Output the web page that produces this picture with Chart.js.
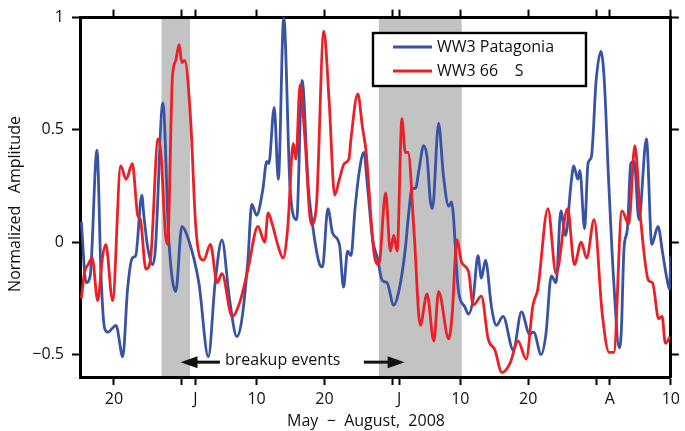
<!DOCTYPE html>
<html>
<head>
<meta charset="utf-8">
<script src="https://cdn.jsdelivr.net/npm/chart.js@4.4.1/dist/chart.umd.min.js"></script>
<style>
  html, body { margin: 0; padding: 0; background: #fff; }
  #wrap { width: 685px; height: 431px; }
</style>
</head>
<body>
<div id="wrap"><canvas id="chart" width="685" height="431"></canvas></div>
<script>
// x in days counted from 1 May 2008 (May 1 = 1, June 1 = 32, July 1 = 62, Aug 1 = 93)
const xMin = 15;
const xMax = 102;
const tickDays = [20, 30, 32, 41, 51, 61, 62, 71, 81, 91, 93, 102];
const tickLabels = { 20: "20", 32: "J", 41: "10", 51: "20", 62: "J", 71: "10", 81: "20", 93: "A", 102: "10" };
const ampTicks = [-0.5, 0, 0.5, 1];
const ampLabels = { "-0.5": "\u22120.5", "0": "0", "0.5": "0.5", "1": "1" };

// breakup periods (grey bands)
const breakupStart = [27.0, 59.0];
const breakupEnd = [31.2, 71.2];

// WW3 Patagonia
const patagoniaDays = [15.2, 15.9, 16.5, 17.5, 18.1, 18.6, 19.1, 20.3, 21.3, 22.0, 22.7, 23.2, 24.1, 24.4, 24.9, 25.7, 26.1, 27.2, 28.1, 29.1,
  30.0, 31.0, 32.5, 33.9, 34.9, 35.9, 37.0, 38.1, 38.8, 39.7, 40.3, 41.0, 41.9, 42.5, 42.8, 43.6, 44.2, 45.0, 45.9, 46.4,
  46.9, 47.7, 48.6, 49.05, 50.3, 50.7, 51.5, 52.2, 53.2, 53.8, 54.4, 54.9, 55.5, 56.1, 56.8, 57.3, 58.1, 58.8, 59.5, 60.2,
  61.2, 62.0, 62.9, 63.4, 63.9, 64.4, 64.9, 65.6, 66.1, 66.6, 66.9, 67.8, 68.5, 69.3, 69.7, 70.7, 71.7, 72.2, 72.9, 73.6,
  74.1, 74.7, 75.6, 76.3, 77.3, 78.8, 80.0, 81.2, 81.8, 82.9, 83.6, 84.4, 85.1, 85.8, 86.5, 87.3, 87.7, 88.3, 88.6, 89.3,
  89.8, 90.3, 91.0, 91.7, 92.2, 92.8, 93.6, 94.4, 94.7, 95.1, 95.6, 96.1, 96.6, 97.3, 98.4, 99.2, 100.1, 100.8, 101.4, 101.8, 102.0];
const patagoniaAmp = [0.09, -0.18, -0.15, 0.41, -0.15, -0.38, -0.40, -0.37, -0.51, -0.21, -0.07, -0.06, 0.21, 0.12, -0.01, -0.10, -0.03, 0.62, 0.0, -0.22,
  0.07, 0.01, -0.18, -0.51, -0.18, 0.01, -0.25, -0.42, -0.35, -0.09, 0.17, 0.12, 0.23, 0.36, 0.35, 0.60, 0.28, 1.0, 0.26, 0.12,
  0.10, 0.72, 0.25, 0.12, -0.10, -0.11, 0.15, 0.04, -0.01, -0.20, -0.04, -0.06, 0.15, 0.31, 0.40, 0.26, 0.01, -0.07, -0.17, -0.18,
  -0.28, -0.21, -0.03, 0.13, 0.24, 0.24, 0.32, 0.43, 0.38, 0.18, 0.15, 0.53, 0.30, 0.16, 0.18, -0.21, -0.29, -0.32, -0.25, -0.06,
  -0.16, -0.08, -0.29, -0.37, -0.33, -0.48, -0.31, -0.41, -0.40, -0.50, -0.41, -0.15, -0.18, 0.14, 0.03, 0.26, 0.34, 0.28, 0.32, 0.06,
  0.35, 0.38, 0.72, 0.85, 0.72, 0.30, -0.18, -0.47, -0.40, -0.03, 0.06, 0.35, 0.36, 0.10, 0.46, -0.01, 0.07, -0.05, -0.16, -0.21, -0.06];

// WW3 66 S
const south66Days = [15.2, 15.7, 16.2, 16.8, 17.6, 18.3, 18.8, 19.8, 21.0, 21.8, 22.7, 23.5, 23.9, 24.7, 25.4, 26.5, 26.9, 27.6, 27.9, 28.6,
  29.1, 29.6, 30.0, 30.4, 31.3, 32.0, 32.7, 33.2, 34.2, 35.2, 35.9, 37.4, 38.6, 39.8, 41.2, 42.2, 42.7, 43.4, 44.2, 44.9,
  45.6, 46.4, 46.8, 47.4, 48.1, 49.05, 49.8, 50.9, 51.7, 52.5, 53.2, 53.9, 54.6, 54.9, 55.9, 56.6, 57.1, 58.3, 59.0, 60.0,
  60.7, 61.2, 61.7, 62.4, 62.9, 63.3, 64.2, 65.1, 66.1, 67.1, 67.8, 69.3, 69.8, 70.5, 71.2, 72.2, 72.9, 74.1, 75.1, 76.1,
  77.1, 78.3, 79.5, 80.7, 81.7, 82.4, 83.9, 85.1, 86.8, 87.8, 88.8, 89.6, 90.7, 91.9, 92.9, 93.6, 94.8, 95.8, 96.7, 97.5,
  98.7, 99.3, 100.2, 100.7, 101.2, 101.9];
const south66Amp = [-0.25, -0.13, -0.10, -0.07, -0.26, -0.07, -0.01, -0.26, 0.34, 0.28, 0.35, 0.12, 0.10, -0.12, -0.07, 0.46, 0.40, 0.03, -0.01, 0.73,
  0.81, 0.88, 0.80, 0.81, 0.54, 0.09, -0.07, -0.08, -0.01, -0.18, -0.14, -0.33, -0.26, -0.11, 0.07, 0.00, 0.13, 0.07, -0.02, -0.07,
  0.07, 0.44, 0.37, 0.70, 0.47, 0.08, 0.16, 0.94, 0.62, 0.21, 0.28, 0.35, 0.37, 0.46, 0.66, 0.51, 0.41, -0.05, -0.10, 0.22,
  -0.04, 0.03, -0.04, 0.55, 0.40, 0.40, 0.04, -0.37, -0.23, -0.44, -0.22, -0.43, -0.32, 0.01, -0.09, -0.13, -0.28, -0.24, -0.43, -0.48,
  -0.58, -0.54, -0.44, -0.52, -0.28, -0.21, 0.15, -0.14, 0.15, -0.10, 0.00, -0.07, 0.10, -0.32, -0.49, -0.49, 0.14, 0.08, 0.43, 0.12,
  -0.17, -0.18, -0.34, -0.33, -0.45, -0.42];

const blue = "#3953a4";
const red = "#ec1f27";

function toPoints(days, amps) {
  return days.map((d, i) => ({ x: d, y: amps[i] }));
}

Chart.defaults.font.family = "'Open Sans', sans-serif";
Chart.defaults.font.size = 16;
Chart.defaults.color = "#111";

// grey bands behind everything, legend box and arrows on top
const overlay = {
  id: "overlay",
  beforeDraw(chart) {
    const { ctx, chartArea, scales } = chart;
    ctx.save();
    ctx.fillStyle = "#c3c3c3";
    for (let i = 0; i < breakupStart.length; i++) {
      const x0 = scales.x.getPixelForValue(breakupStart[i]);
      const x1 = scales.x.getPixelForValue(breakupEnd[i]);
      ctx.fillRect(x0, chartArea.top, x1 - x0, chartArea.bottom - chartArea.top);
    }
    ctx.restore();
  },
  afterDraw(chart) {
    const { ctx, scales } = chart;
    ctx.save();

    // legend
    ctx.fillStyle = "#fff";
    ctx.fillRect(373, 33, 213, 53);
    ctx.strokeStyle = "#000";
    ctx.lineWidth = 2.4;
    ctx.strokeRect(373, 33, 213, 53);
    ctx.font = "16px 'Open Sans', sans-serif";
    ctx.textBaseline = "middle";
    ctx.textAlign = "left";
    chart.data.datasets.slice().reverse().forEach((ds, i) => {
      const y = 47 + i * 24;
      ctx.strokeStyle = ds.borderColor;
      ctx.lineWidth = 3;
      ctx.beginPath();
      ctx.moveTo(393, y);
      ctx.lineTo(432, y);
      ctx.stroke();
      ctx.fillStyle = "#111";
      ctx.fillText(ds.label, 437, y);
    });

    // breakup events label with arrows
    const yv = scales.y.getPixelForValue(-0.525);
    const ax = d => scales.x.getPixelForValue(d);
    ctx.fillStyle = "#111";
    ctx.textAlign = "center";
    ctx.fillText("breakup events", ax(44.85), yv);
    ctx.strokeStyle = "#111";
    ctx.lineWidth = 3;
    const arrow = (tail, tip) => {
      const x0 = ax(tail), x1 = ax(tip);
      const dir = Math.sign(x1 - x0);
      ctx.beginPath();
      ctx.moveTo(x0, yv + 2);
      ctx.lineTo(x1 - dir * 12, yv + 2);
      ctx.stroke();
      ctx.beginPath();
      ctx.moveTo(x1, yv + 2);
      ctx.lineTo(x1 - dir * 17, yv - 4);
      ctx.lineTo(x1 - dir * 17, yv + 8);
      ctx.closePath();
      ctx.fill();
    };
    arrow(35.6, 29.8);
    arrow(56.8, 62.8);

    // axis titles
    ctx.textAlign = "center";
    ctx.fillText("May  \u2212  August,  2008", 366, 421);
    ctx.translate(15, 204);
    ctx.rotate(-Math.PI / 2);
    ctx.fillText("Normalized   Amplitude", 0, 0);
    ctx.restore();
  }
};

const axisGrid = { drawOnChartArea: false, drawTicks: true, tickLength: 8, tickWidth: 2, tickColor: "#000", color: "#000" };
const axisBorder = { display: true, color: "#000", width: 3 };
const dayTicks = s => { s.ticks = tickDays.map(v => ({ value: v })); };
const ampTickList = s => { s.ticks = ampTicks.map(v => ({ value: v })); };

new Chart(document.getElementById("chart"), {
  type: "line",
  data: {
    datasets: [
      {
        label: "WW3 66    S",
        data: toPoints(south66Days, south66Amp),
        borderColor: red,
        borderWidth: 2.8,
        pointRadius: 0,
        cubicInterpolationMode: "monotone",
        order: 1
      },
      {
        label: "WW3 Patagonia",
        data: toPoints(patagoniaDays, patagoniaAmp),
        borderColor: blue,
        borderWidth: 2.8,
        pointRadius: 0,
        cubicInterpolationMode: "monotone",
        order: 2
      }
    ]
  },
  options: {
    responsive: false,
    animation: false,
    devicePixelRatio: 1,
    layout: { padding: 0 },
    plugins: { legend: { display: false }, tooltip: { enabled: false } },
    scales: {
      x: {
        type: "linear", position: "bottom", min: xMin, max: xMax,
        afterBuildTicks: dayTicks,
        afterFit: s => { s.height = 54; },
        grid: axisGrid, border: axisBorder,
        ticks: { autoSkip: false, maxRotation: 0, padding: 5, color: "#111", callback: v => tickLabels[v] || "" }
      },
      xTop: {
        type: "linear", position: "top", min: xMin, max: xMax,
        afterBuildTicks: dayTicks,
        afterFit: s => { s.height = 14; },
        grid: axisGrid, border: axisBorder,
        ticks: { display: false }
      },
      y: {
        type: "linear", position: "left", min: -0.6, max: 1,
        afterBuildTicks: ampTickList,
        afterFit: s => { s.width = 80; },
        grid: axisGrid, border: axisBorder,
        ticks: { padding: 8, color: "#111", callback: v => ampLabels[String(v)] }
      },
      yRight: {
        type: "linear", position: "right", min: -0.6, max: 1,
        afterBuildTicks: ampTickList,
        afterFit: s => { s.width = 11; },
        grid: axisGrid, border: axisBorder,
        ticks: { display: false }
      }
    }
  },
  plugins: [overlay]
});
</script>
</body>
</html>
